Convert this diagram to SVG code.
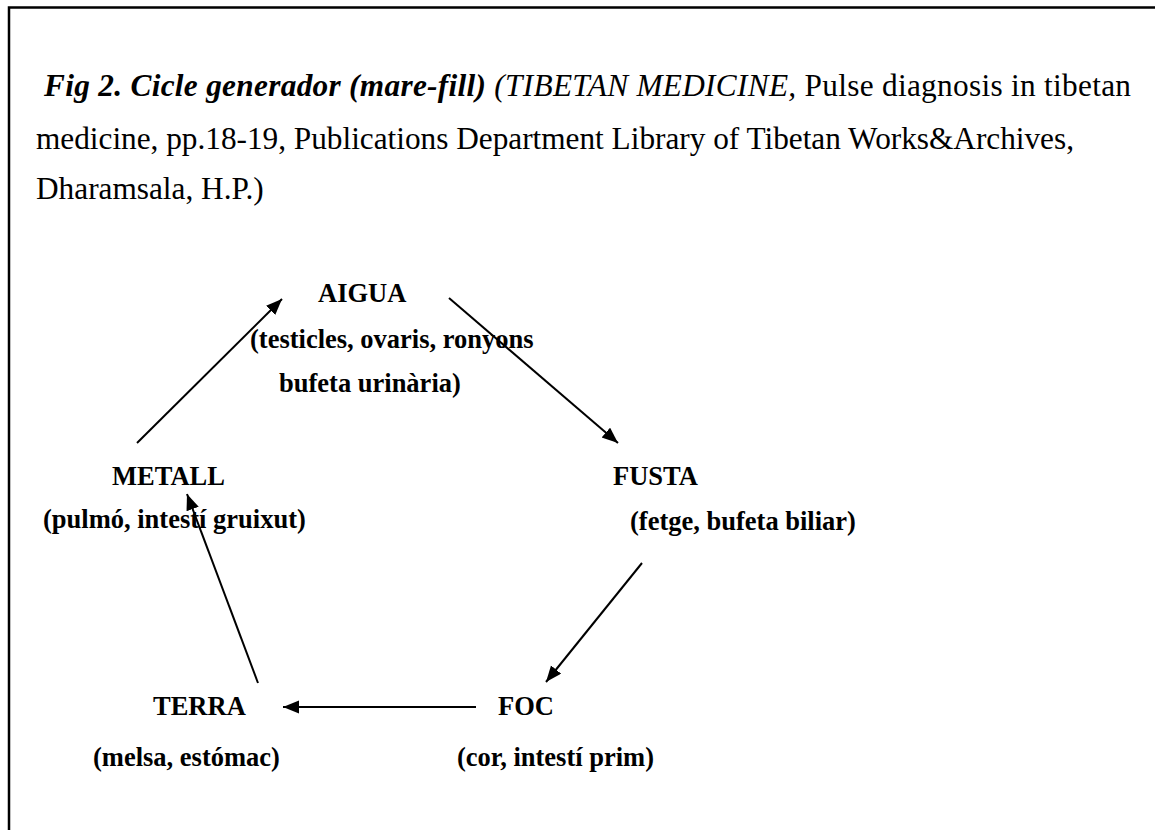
<svg xmlns="http://www.w3.org/2000/svg" width="1155" height="830" viewBox="0 0 1155 830">
<style>
.title{font-family:"Liberation Serif","Times New Roman",serif;font-size:31.3px;fill:#000}
.bi{font-weight:bold;font-style:italic}
.it{font-style:italic}
.node{font-family:"Liberation Serif","Times New Roman",serif;font-size:26.5px;font-weight:bold;fill:#000}
.conn line{stroke:#000;stroke-width:2;fill:none}
</style>
<defs>
<marker id="ah" markerUnits="userSpaceOnUse" markerWidth="18" markerHeight="14" refX="16" refY="6.5" orient="auto">
<path d="M0,0 L16,6.5 L0,13 z" fill="#000"/>
</marker>
</defs>
<rect width="1155" height="830" fill="#fff"/>
<path d="M9,830 V7.5 H1155" fill="none" stroke="#000" stroke-width="2.5"/>
<g id="caption" class="title">
<text x="36" y="96" xml:space="preserve" textLength="1095" lengthAdjust="spacing"><tspan class="bi"> Fig 2. Cicle generador (mare-fill)</tspan><tspan class="it"> (TIBETAN MEDICINE,</tspan> Pulse diagnosis in tibetan</text>
<text x="36" y="149" textLength="1038" lengthAdjust="spacing">medicine, pp.18-19, Publications Department Library of Tibetan Works&amp;Archives,</text>
<text x="36" y="199">Dharamsala, H.P.)</text>
</g>
<g id="node-aigua" class="node">
<text x="318" y="302">AIGUA</text>
<text x="250" y="348">(testicles, ovaris, ronyons</text>
<text x="279" y="392">bufeta urinària)</text>
</g>
<g id="node-metall" class="node">
<text x="112" y="485">METALL</text>
<text x="43" y="528">(pulmó, intestí gruixut)</text>
</g>
<g id="node-fusta" class="node">
<text x="613" y="485">FUSTA</text>
<text x="630" y="530">(fetge, bufeta biliar)</text>
</g>
<g id="node-foc" class="node">
<text x="498" y="715">FOC</text>
<text x="457" y="766">(cor, intestí prim)</text>
</g>
<g id="node-terra" class="node">
<text x="153" y="715">TERRA</text>
<text x="93" y="766">(melsa, estómac)</text>
</g>
<g id="connectors" class="conn">
<line x1="137" y1="443" x2="282" y2="299" marker-end="url(#ah)"/>
<line x1="449" y1="298" x2="618" y2="443" marker-end="url(#ah)"/>
<line x1="642" y1="563" x2="546" y2="682" marker-end="url(#ah)"/>
<line x1="476" y1="707" x2="283" y2="707" marker-end="url(#ah)"/>
<line x1="258" y1="683" x2="187" y2="494" marker-end="url(#ah)"/>
</g>
</svg>
